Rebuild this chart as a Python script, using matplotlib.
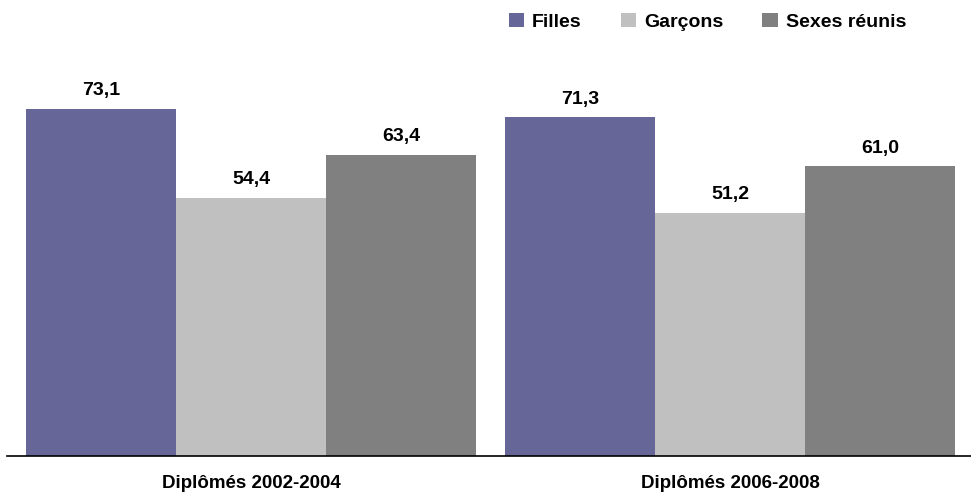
import matplotlib.pyplot as plt
import numpy as np

plt.rcParams['font.family'] = ['Liberation Sans', 'DejaVu Sans']

groups = ["Diplômés 2002-2004", "Diplômés 2006-2008"]
series = ["Filles", "Garçons", "Sexes réunis"]
filles = [73.1, 71.3]
garcons = [54.4, 51.2]
reunis = [63.4, 61.0]
colors = ["#666699", "#C0C0C0", "#808080"]

fig = plt.figure(figsize=(9.71, 4.94), dpi=100)
ax = fig.add_axes([7 / 971, 38 / 494, 964 / 971, 396 / 494])

x = np.arange(len(groups))
w = 150 / 479
values = [filles, garcons, reunis]
for i, (name, vals, c) in enumerate(zip(series, values, colors)):
    bars = ax.bar(x + (i - 1) * w, vals, w, color=c, label=name)
    for b, v in zip(bars, vals):
        ax.annotate(("%.1f" % v).replace(".", ","),
                    (b.get_x() + b.get_width() / 2, v),
                    xytext=(0, 7), textcoords="offset points",
                    ha="center", va="bottom", fontsize=14, fontweight="bold")

ax.set_xlim(-0.51, 1.503)
ax.set_ylim(0, 83.4)
ax.set_xticks(x)
ax.set_xticklabels(groups, fontsize=13.5, fontweight="bold")
ax.tick_params(axis="x", length=0, pad=14)
ax.set_yticks([])
for s in ["top", "right", "left"]:
    ax.spines[s].set_visible(False)
ax.spines["bottom"].set_linewidth(1.2)

fig.legend(loc="upper right", bbox_to_anchor=(0.951, 1.01), ncol=3, frameon=False,
           handlelength=0.8, handleheight=0.8, handletextpad=0.4,
           columnspacing=2.0, prop={"size": 14, "weight": "bold"})

fig.savefig("out.png", dpi=100)
